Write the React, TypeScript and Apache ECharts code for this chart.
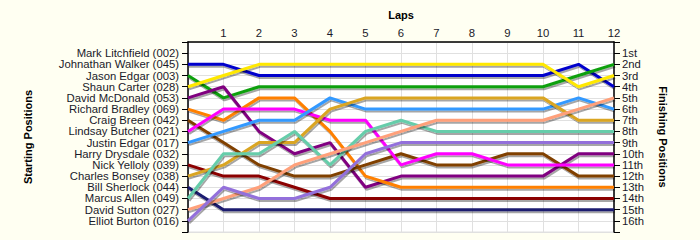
import React, { useEffect, useRef } from "react";
import * as echarts from "echarts";

const laps = [0, 1, 2, 3, 4, 5, 6, 7, 8, 9, 10, 11, 12];

const drivers = [
  "Mark Litchfield (002)",
  "Johnathan Walker (045)",
  "Jason Edgar (003)",
  "Shaun Carter (028)",
  "David McDonald (053)",
  "Richard Bradley (069)",
  "Craig Breen (042)",
  "Lindsay Butcher (021)",
  "Justin Edgar (017)",
  "Harry Drysdale (032)",
  "Nick Yelloly (039)",
  "Charles Bonsey (038)",
  "Bill Sherlock (044)",
  "Marcus Allen (049)",
  "David Sutton (027)",
  "Elliot Burton (016)",
];

const finishLabels = [
  "1st", "2nd", "3rd", "4th", "5th", "6th", "7th", "8th",
  "9th", "10th", "11th", "12th", "13th", "14th", "15th", "16th",
];

const markLitchfield = [1, 1, 1, 1, 1, 1, 1, 1, 1, 1, 1, 1, 1];
const johnathanWalker = [2, 2, 3, 3, 3, 3, 3, 3, 3, 3, 3, 2, 4];
const jasonEdgar = [3, 5, 4, 4, 4, 4, 4, 4, 4, 4, 4, 3, 2];
const shaunCarter = [4, 3, 2, 2, 2, 2, 2, 2, 2, 2, 2, 4, 3];
const davidMcDonald = [5, 4, 8, 10, 9, 13, 12, 12, 12, 12, 12, 10, 10];
const richardBradley = [6, 7, 5, 5, 8, 12, 13, 13, 13, 13, 13, 13, 13];
const craigBreen = [7, 9, 11, 12, 12, 11, 10, 11, 11, 10, 10, 12, 12];
const lindsayButcher = [8, 6, 6, 6, 7, 7, 11, 10, 10, 11, 11, 11, 11];
const justinEdgar = [9, 8, 7, 7, 5, 6, 6, 6, 6, 6, 6, 5, 6];
const harryDrysdale = [10];
const nickYelloly = [11, 12, 12, 13, 14, 14, 14, 14, 14, 14, 14, 14, 14];
const charlesBonsey = [12, 11, 9, 9, 6, 5, 5, 5, 5, 5, 5, 7, 7];
const billSherlock = [13, 15, 15, 15, 15, 15, 15, 15, 15, 15, 15, 15, 15];
const marcusAllen = [14, 10, 10, 8, 11, 8, 7, 8, 8, 8, 8, 8, 8];
const davidSutton = [15, 14, 13, 11, 10, 9, 8, 7, 7, 7, 7, 6, 5];
const elliotBurton = [16, 13, 14, 14, 13, 10, 9, 9, 9, 9, 9, 9, 9];

const positions = [
  markLitchfield, johnathanWalker, jasonEdgar, shaunCarter, davidMcDonald,
  richardBradley, craigBreen, lindsayButcher, justinEdgar, harryDrysdale,
  nickYelloly, charlesBonsey, billSherlock, marcusAllen, davidSutton, elliotBurton,
];

const colors = [
  "#F01010", "#0000CC", "#10A010", "#FFE800", "#800080", "#FF8000",
  "#804000", "#FF00FF", "#3399FF", "#999999", "#8B0000", "#DAA520",
  "#1A1A70", "#66CDAA", "#FFA07A", "#9370DB",
];

const textColor = "#1a1a2a";
const font = "Liberation Sans";

export default function App() {
  const ref = useRef<HTMLDivElement>(null);
  useEffect(() => {
    if (!ref.current) return;
    const chart = echarts.init(ref.current, null, { renderer: "svg" });
    const series = drivers.map((name, i) => ({
      name,
      type: "line",
      data: positions[i].map((p, k) => [laps[k], p]),
      showSymbol: false,
      symbol: "none",
      lineStyle: {
        color: colors[i],
        width: 3,
        shadowColor: "rgba(0,0,0,0.35)",
        shadowOffsetX: 1,
        shadowOffsetY: 2,
        shadowBlur: 1,
      },
      itemStyle: { color: colors[i] },
      silent: true,
    }));
    chart.setOption({
      animation: false,
      backgroundColor: "#FFFFF2",
      textStyle: { fontFamily: font },
      grid: {
        left: 188,
        right: 86,
        top: 42,
        bottom: 8,
        show: true,
        backgroundColor: "#FFFFFF",
        borderColor: "#E0E0E0",
        borderWidth: 1,
      },
      xAxis: {
        type: "value",
        position: "top",
        min: 0,
        max: 12,
        interval: 1,
        name: "Laps",
        nameLocation: "middle",
        nameGap: 22,
        nameTextStyle: { fontWeight: "bold", fontSize: 11, color: "#000", fontFamily: font },
        axisLine: { show: true, lineStyle: { color: "#000", width: 1.5 } },
        axisTick: { show: false },
        axisLabel: {
          fontSize: 11.3,
          color: textColor,
          margin: 4,
          formatter: (v: number) => (v === 0 ? "" : String(v)),
        },
        splitLine: { show: true, lineStyle: { color: "#E0E0E0", width: 1 } },
      },
      yAxis: [
        {
          type: "value",
          position: "left",
          inverse: true,
          min: 0,
          max: 17,
          interval: 1,
          name: "Starting Positions",
          nameLocation: "middle",
          nameRotate: 90,
          nameGap: 155,
          nameTextStyle: { fontWeight: "bold", fontSize: 11, color: "#000", fontFamily: font },
          axisLine: { show: true, lineStyle: { color: "#000", width: 1.5 } },
          axisTick: { show: true, length: 6, lineStyle: { color: "#000" } },
          axisLabel: {
            fontSize: 11.3,
            color: textColor,
            margin: 9,
            formatter: (v: number) => drivers[v - 1] ?? "",
          },
          splitLine: { show: true, lineStyle: { color: "#E0E0E0", width: 1 } },
        },
        {
          type: "value",
          position: "right",
          inverse: true,
          min: 0,
          max: 17,
          interval: 1,
          name: "Finishing Positions",
          nameLocation: "middle",
          nameRotate: -90,
          nameGap: 43,
          nameTextStyle: { fontWeight: "bold", fontSize: 11, color: "#000", fontFamily: font },
          axisLine: { show: true, lineStyle: { color: "#000", width: 1.5 } },
          axisTick: { show: true, length: 6, lineStyle: { color: "#000" } },
          axisLabel: {
            fontSize: 11.3,
            color: textColor,
            margin: 8,
            formatter: (v: number) => finishLabels[v - 1] ?? "",
          },
          splitLine: { show: false },
        },
      ],
      series,
    });
    return () => chart.dispose();
  }, []);
  return <div ref={ref} style={{ width: 700, height: 240, position: "absolute", left: 0, top: 0 }} />;
}
